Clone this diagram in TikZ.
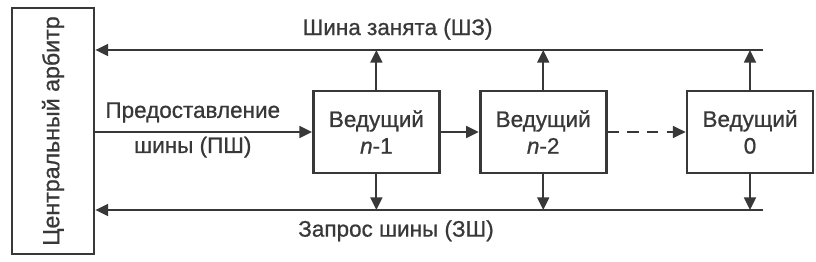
\documentclass[tikz,border=0pt]{standalone}
\usepackage{fontspec}
\setmainfont{Liberation Sans}[FakeBold=0.8]
\usepackage{tikz}
\usetikzlibrary{positioning,arrows.meta}

\definecolor{ink}{HTML}{383838}

\begin{document}
\begin{tikzpicture}[
      node distance=0.95cm, auto,
      font=\fontsize{16}{19}\selectfont, color=ink,
      box/.style={draw, rectangle, line width=2pt, minimum width=3.15cm,
                  minimum height=2.05cm, align=center, inner sep=2pt},
      arrow/.style={-{Triangle[length=9pt,width=8.5pt]}, line width=1.3pt},
    ]
    \useasboundingbox (0,0) rectangle (20.4,6.55);
    \node[box, minimum width=2.05cm, minimum height=6.15cm] (arb) at (1.325,3.275)
         {\rotatebox{90}{\fontsize{16.5}{19}\selectfont Центральный арбитр}};
    \node[box] (m1) at (9.41,3.25) {Ведущий\\\textit{n}-1};
    \node[box, right=0.95cm of m1] (m2) {Ведущий\\\textit{n}-2};
    \node[box, right=1.95cm of m2] (m0) {Ведущий\\0};
    \coordinate (sz) at (19.075,5.3);
    \coordinate (zsh) at (19.075,1.3);
    % bus lines
    \draw[arrow] (sz) -- (arb.east |- sz);
    \draw[arrow] (zsh) -- (arb.east |- zsh);
    \node (szl) at (9.94,5.82) {Шина занята (ШЗ)};
    \node (zshl) at (9.9,0.78) {Запрос шины (ЗШ)};
    % grant chain
    \draw[arrow] (arb.east |- m1) -- (m1.west);
    \node[align=center] (psh) at (4.82,3.3) {Предоставление\\[6pt]шины (ПШ)};
    \draw[arrow] (m1) -- (m2);
    \draw[arrow, dash pattern=on 8pt off 6pt] (m2) -- (m0);
    % to the buses
    \foreach \m in {m1,m2,m0} {
      \draw[arrow] (\m.north) -- (\m.north |- sz);
      \draw[arrow] (\m.south) -- (\m.south |- zsh);
    }
  \end{tikzpicture}
\end{document}
